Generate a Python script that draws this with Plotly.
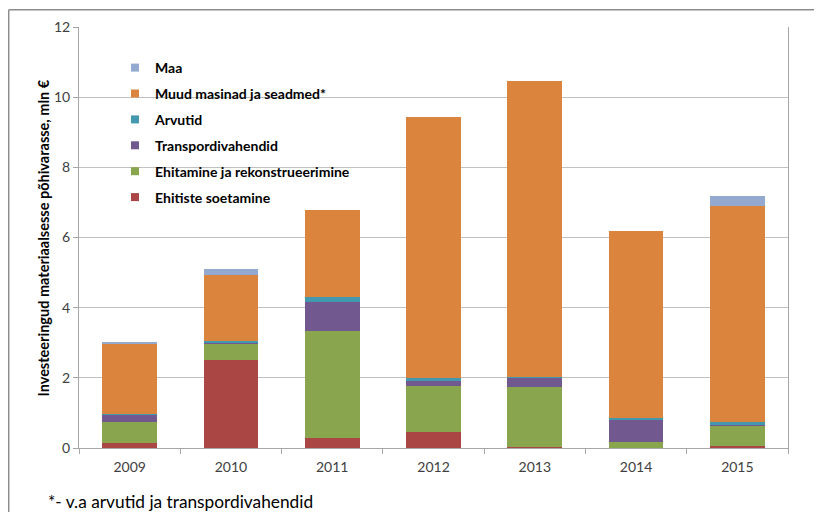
import plotly.graph_objects as go

years = ["2009", "2010", "2011", "2012", "2013", "2014", "2015"]
ehitiste_soetamine = [0.15, 2.51, 0.29, 0.47, 0.04, 0.00, 0.06]
ehitamine = [0.60, 0.46, 3.04, 1.31, 1.70, 0.18, 0.57]
transpordivahendid = [0.21, 0.04, 0.82, 0.14, 0.26, 0.61, 0.03]
arvutid = [0.02, 0.04, 0.14, 0.08, 0.03, 0.07, 0.07]
muud_masinad = [1.99, 1.88, 2.49, 7.43, 8.42, 5.32, 6.18]
maa = [0.03, 0.16, 0.00, 0.00, 0.00, 0.00, 0.28]
total_labels = ["3,0", "5,1", "", "9,4", "10,5", "6,2", "7,2"]

series = [
    ("Ehitiste soetamine", ehitiste_soetamine, "#AA4643"),
    ("Ehitamine ja rekonstrueerimine", ehitamine, "#89A54E"),
    ("Transpordivahendid", transpordivahendid, "#71588F"),
    ("Arvutid", arvutid, "#4198AF"),
    ("Muud masinad ja seadmed*", muud_masinad, "#DB843D"),
    ("Maa", maa, "#93A9CF"),
]

# the page body has an 8px margin; lay the figure out in window pixels minus 8
OFF = 8
W, H = 822 - OFF, 512 - OFF
L, R, T, B = 79 - OFF, 788 - OFF, 27 - OFF, 448 - OFF

def px_x(p):
    return (p - OFF - L) / (R - L)

def px_y(p):
    return (B - (p - OFF)) / (B - T)

fig = go.Figure()
for name, vals, col in series:
    fig.add_trace(go.Bar(x=years, y=vals, name=name, marker_color=col,
                         marker_line_width=0, showlegend=False))
# legend entries (small square markers), top entry first
for name, vals, col in reversed(series):
    fig.add_trace(go.Scatter(x=[years[0]], y=[None], mode="markers", name=name,
                             legendgroup=name, hoverinfo="skip",
                             marker=dict(symbol="square", size=8, color=col)))

totals = [sum(v) for v in zip(*[s[1] for s in series])]
for yr, tot, lab in zip(years, totals, total_labels):
    if lab:
        fig.add_annotation(x=yr, y=tot, text=lab, showarrow=False, yshift=20,
                           font=dict(family="Lato", size=14, color="#404040"))

# y-axis title
fig.add_annotation(xref="paper", yref="paper", x=px_x(32), y=px_y(238),
                   text="<b>Investeeringud materiaalsesse põhivarasse, mln €</b>",
                   textangle=-90, showarrow=False,
                   font=dict(family="Lato", size=14.5, color="#000000"))
# footnote
fig.add_annotation(xref="paper", yref="paper", x=px_x(46), y=px_y(501),
                   xanchor="left", yanchor="middle",
                   text="*- v.a arvutid ja transpordivahendid", showarrow=False,
                   font=dict(family="Lato", size=17.3, color="#000000"))
# outer frame (top and left)
fig.add_shape(type="line", xref="paper", yref="paper", x0=px_x(8.7), x1=px_x(840),
              y0=px_y(9.7), y1=px_y(9.7), line=dict(color="#8c8c8c", width=1.5))
fig.add_shape(type="line", xref="paper", yref="paper", x0=px_x(8.7), x1=px_x(8.7),
              y0=px_y(9.7), y1=px_y(530), line=dict(color="#8c8c8c", width=1.5))
# white legend backdrop: hides gridlines but stays under the bars
fig.add_shape(type="rect", xref="paper", yref="paper", x0=px_x(128), x1=px_x(366),
              y0=px_y(56), y1=px_y(212), fillcolor="white", line_width=0,
              layer="between")

fig.update_layout(
    width=W, height=H,
    margin=dict(l=L, r=W - R, t=T, b=H - B),
    barmode="stack", bargap=0.46,
    plot_bgcolor="white", paper_bgcolor="white",
    font=dict(family="Lato", size=14, color="#404040"),
    legend=dict(x=px_x(115), y=px_y(52), xanchor="left", yanchor="top",
                traceorder="grouped", bgcolor="rgba(0,0,0,0)",
                font=dict(family="Lato", size=14, color="#000000", weight="bold"),
                tracegroupgap=4.7, itemwidth=30),
    xaxis=dict(type="category", categoryorder="array", categoryarray=years,
               range=[-0.5, len(years) - 0.5], automargin=False,
               showline=True, linecolor="#a6a6a6", linewidth=1,
               ticks="outside", tickson="boundaries", ticklen=5, tickcolor="#a6a6a6",
               ticklabelstandoff=6,
               showgrid=False, tickfont=dict(family="Lato", size=14, color="#404040")),
    yaxis=dict(range=[0, 12], dtick=2, showline=True, mirror=True, automargin=False,
               linecolor="#a6a6a6", linewidth=1, gridcolor="#c0c0c0",
               ticks="outside", ticklen=5, tickcolor="#a6a6a6",
               zeroline=False,
               tickfont=dict(family="Lato", size=14, color="#404040")),
)

fig.write_html("out.html")
